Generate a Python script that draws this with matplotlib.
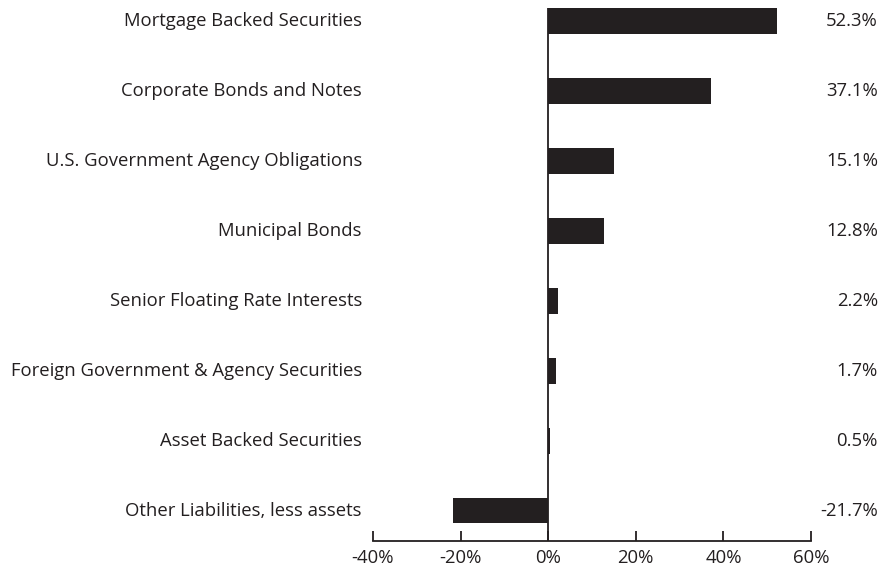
import matplotlib.pyplot as plt
from matplotlib.transforms import blended_transform_factory

plt.rcParams['font.family'] = ['Open Sans', 'DejaVu Sans']

categories = [
    "Mortgage Backed Securities",
    "Corporate Bonds and Notes",
    "U.S. Government Agency Obligations",
    "Municipal Bonds",
    "Senior Floating Rate Interests",
    "Foreign Government & Agency Securities",
    "Asset Backed Securities",
    "Other Liabilities, less assets",
]
values = [52.3, 37.1, 15.1, 12.8, 2.2, 1.7, 0.5, -21.7]
ticks = [-40, -20, 0, 20, 40, 60]

ink = "#231f20"
fs = 13.3

fig = plt.figure(figsize=(8.87, 5.69), dpi=100)
ax = fig.add_axes([373 / 887, 1 - 541 / 569, 438 / 887, 533 / 569])

pos = list(range(len(categories)))
ax.barh(pos, values, height=0.37, color=ink)
ax.axvline(0, color=ink, lw=1.3)

ax.set_xlim(-40, 60)
ax.set_ylim(7.436, -0.186)

for s in ["top", "right", "left"]:
    ax.spines[s].set_visible(False)
ax.spines["bottom"].set_color(ink)
ax.spines["bottom"].set_linewidth(1.3)

ax.set_xticks(ticks)
ax.set_xticklabels([f"{t}%" for t in ticks])
ax.tick_params(axis="x", direction="in", length=7.5, width=1.3, color=ink,
               labelcolor=ink, labelsize=fs, pad=5.5)
ax.set_yticks([])

# category names on the left, values in a column on the right
trans = blended_transform_factory(fig.transFigure, ax.transData)
for y, name, v in zip(pos, categories, values):
    ax.text(362 / 887, y, name, transform=trans,
            ha="right", va="center", fontsize=fs, color=ink)
    ax.text(878 / 887, y, f"{v}%", transform=trans,
            ha="right", va="center", fontsize=fs, color=ink)

fig.savefig("out.png", dpi=100)
